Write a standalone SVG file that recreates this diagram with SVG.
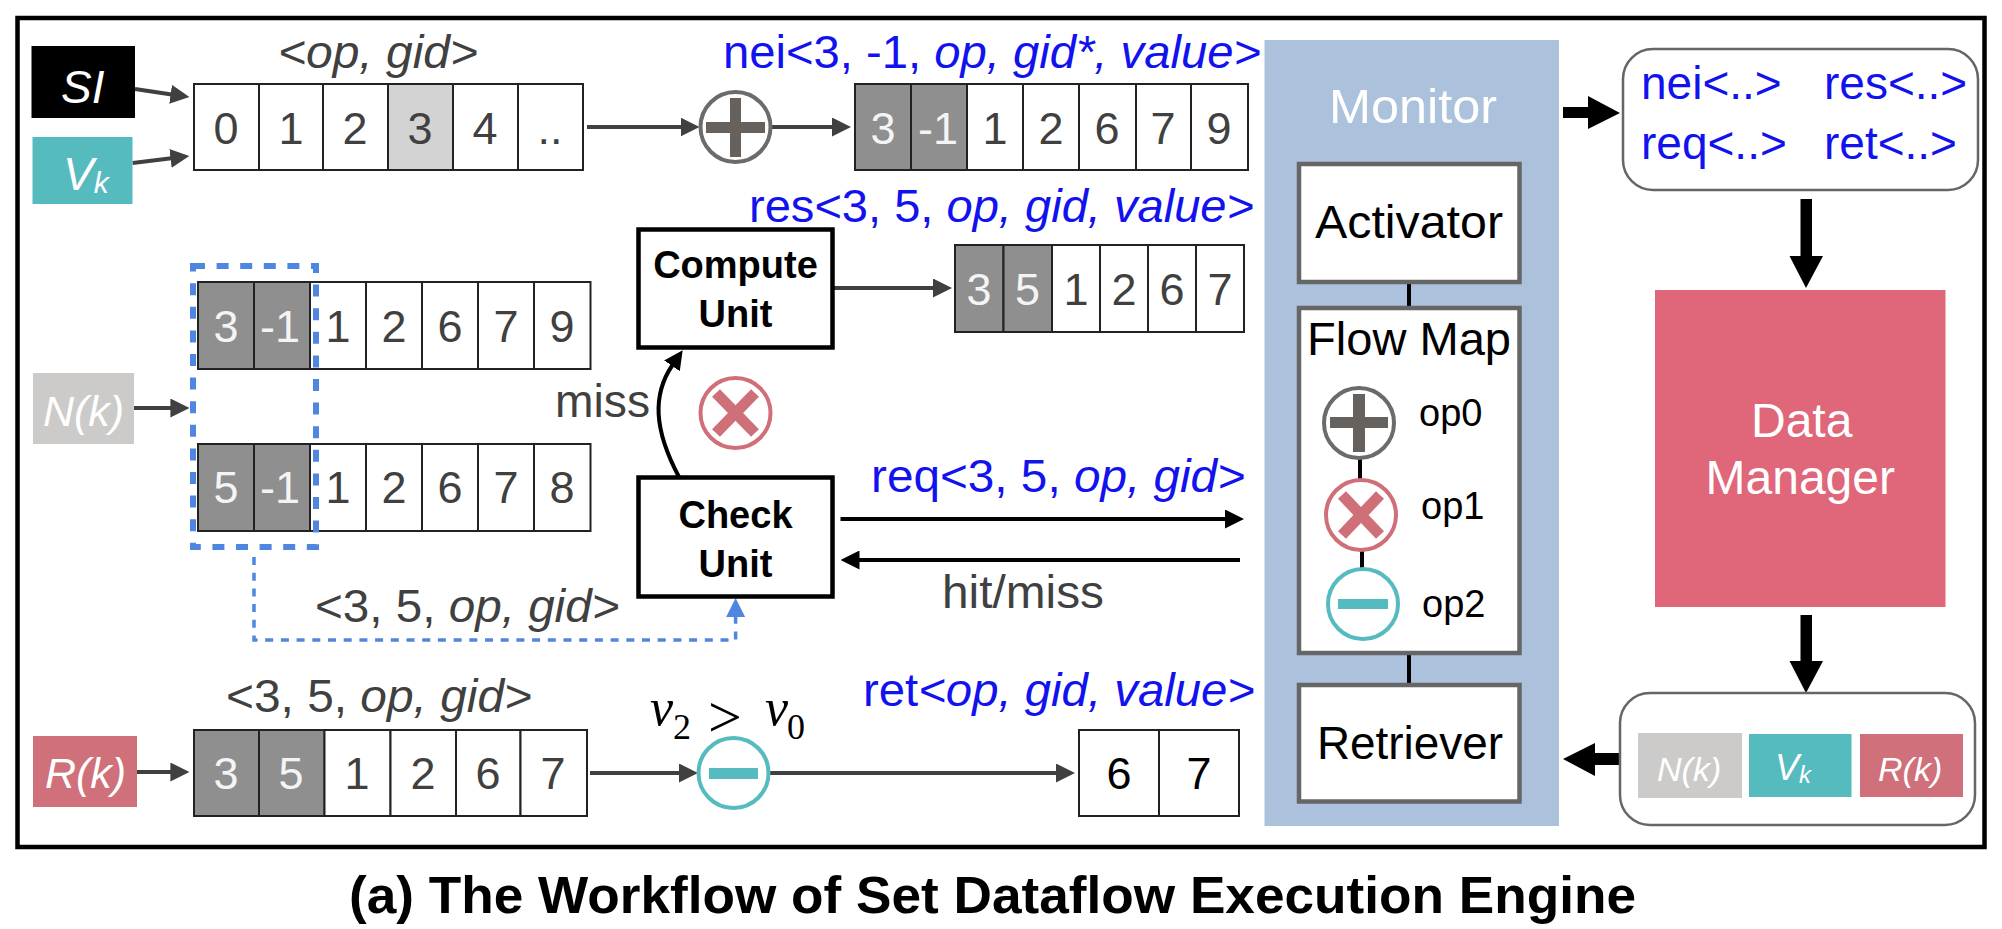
<svg xmlns="http://www.w3.org/2000/svg" width="2002" height="929" viewBox="0 0 2002 929">
<style>
text{font-family:"Liberation Sans",Arial,sans-serif}
.d{font-size:45px;text-anchor:middle;fill:#404040}
.w{font-size:45px;text-anchor:middle;fill:#f4f4f4}
.k{font-size:45px;text-anchor:middle;fill:#000}
.l{font-size:46px;fill:#404040}
.b{font-size:46px;fill:#1212ee}
.i{font-style:italic}
.t{font-size:46px;fill:#000}
.u{font-size:38px;font-weight:bold;fill:#000;text-anchor:middle}
.op{font-size:38px;fill:#000}
.wt{fill:#fff}
.cell{fill:#fff;stroke:#222;stroke-width:2}
.g{fill:#8f8f8f;stroke:#222;stroke-width:2}
.lg{fill:#d3d3d3;stroke:#222;stroke-width:2}
.a{stroke:#404040;stroke-width:4;fill:none;marker-end:url(#ad)}
.ab{stroke:#000;stroke-width:4;fill:none;marker-end:url(#ab)}
.mon{fill:#fff;stroke:#666;stroke-width:4.5}
.unit{fill:#fff;stroke:#000;stroke-width:4.5}
.rb{fill:#fff;stroke:#666;stroke-width:2.5}
.cp{fill:#fff;stroke:#6b6b6b;stroke-width:4}
.cx{fill:#fff;stroke:#cf6f78;stroke-width:4}
.cm{fill:#fff;stroke:#56bbbf;stroke-width:4}
.link{stroke:#000;stroke-width:4}
</style>
<defs>
<marker id="ad" markerUnits="userSpaceOnUse" markerWidth="19" markerHeight="19" viewBox="0 0 19 19" refX="1" refY="9.5" orient="auto"><path d="M0,0L19,9.5L0,19Z" fill="#404040"/></marker>
<marker id="ab" markerUnits="userSpaceOnUse" markerWidth="19" markerHeight="19" viewBox="0 0 19 19" refX="1" refY="9.5" orient="auto"><path d="M0,0L19,9.5L0,19Z" fill="#000"/></marker>
<marker id="abl" markerUnits="userSpaceOnUse" markerWidth="19" markerHeight="19" viewBox="0 0 19 19" refX="1" refY="9.5" orient="auto"><path d="M0,0L19,9.5L0,19Z" fill="#4f86e0"/></marker>
</defs>
<rect width="2002" height="929" fill="#fff"/>
<rect id="frame" x="17.5" y="18" width="1967" height="829" fill="none" stroke="#000" stroke-width="4.5"/>

<g id="monitor">
<rect x="1264.5" y="40" width="294.5" height="786" fill="#abc1dc"/>
<text x="1329" y="123" font-size="48" textLength="168" lengthAdjust="spacingAndGlyphs" class="wt">Monitor</text>
</g>

<g id="connectors">
<path class="a" d="M135,89L171.6,94.4"/>
<path class="a" d="M132.6,163L171.5,158.2"/>
<path class="a" d="M134,408H171.4"/>
<path class="a" d="M137,772H171.4"/>
<path class="a" d="M587,127H681.5"/>
<path class="a" d="M771,127H833"/>
<path class="a" d="M833,288H934"/>
<path class="a" d="M590,773H680"/>
<path class="a" d="M768,773H1057"/>
<path class="ab" stroke-width="3.5" d="M679,477C654,430 652,395 672.5,365"/>
<path class="ab" d="M840.5,519H1226"/>
<path class="ab" d="M1240,560H858.5"/>
<path d="M254,557V640H735.6V616" fill="none" stroke="#4f86e0" stroke-width="3.5" stroke-dasharray="8 7.7" marker-end="url(#abl)"/>
<path class="link" d="M1409,283V309M1360,458V480M1362,549V569M1409,654V685"/>
<path d="M1563,107H1588V96L1620,113L1588,129V118H1563Z" fill="#000"/>
<path d="M1800.5,199H1812V256H1823L1806,288L1789.5,256H1800.5Z" fill="#000"/>
<path d="M1800.5,615H1812V661H1823L1806,693L1789.5,661H1800.5Z" fill="#000"/>
<path d="M1620,753H1595V743L1563,759L1595,776V765H1620Z" fill="#000"/>
</g>

<g id="si"><rect x="31.5" y="46" width="103.5" height="72" fill="#000"/><text x="61" y="103" font-size="46" class="i wt">SI</text></g>
<g id="vk"><rect x="32.5" y="137" width="100" height="67" fill="#56bbbf"/><text x="63" y="190" font-size="46" class="i wt">V<tspan font-size="30" dy="3">k</tspan></text></g>
<g id="nk"><rect x="33" y="373" width="101" height="71" fill="#cccbc9"/><text x="43" y="426" font-size="43" class="i wt">N(k)</text></g>
<g id="rk"><rect x="33" y="736" width="104" height="71" fill="#d0707a"/><text x="45" y="788" font-size="43" class="i wt">R(k)</text></g>

<g id="array-input">
<text x="278" y="68" class="l i" textLength="200" lengthAdjust="spacingAndGlyphs">&lt;op, gid&gt;</text>
<rect class="cell" x="194" y="84" width="65" height="86"/><rect class="cell" x="259" y="84" width="64" height="86"/><rect class="cell" x="323" y="84" width="65" height="86"/><rect class="lg" x="388" y="84" width="65" height="86"/><rect class="cell" x="453" y="84" width="65" height="86"/><rect class="cell" x="518" y="84" width="65" height="86"/>
<text class="d" x="226" y="144">0</text><text class="d" x="291" y="144">1</text><text class="d" x="355" y="144">2</text><text class="d" x="420" y="144">3</text><text class="d" x="485" y="144">4</text><text class="d" x="550" y="144">..</text>
</g>

<g id="op-plus"><circle class="cp" cx="735.5" cy="127" r="35"/><path d="M706,122H730V98H741V122H765V133H741V157H730V133H706Z" fill="#66615c"/></g>

<g id="array-nei">
<text x="723" y="68" class="b" textLength="538" lengthAdjust="spacingAndGlyphs">nei&lt;3, -1, <tspan class="i">op, gid*, value&gt;</tspan></text>
<rect class="g" x="855" y="84" width="56" height="86"/><rect class="g" x="911" y="84" width="56" height="86"/><rect class="cell" x="967" y="84" width="56" height="86"/><rect class="cell" x="1023" y="84" width="56" height="86"/><rect class="cell" x="1079" y="84" width="57" height="86"/><rect class="cell" x="1136" y="84" width="55" height="86"/><rect class="cell" x="1191" y="84" width="57" height="86"/>
<text class="w" x="883" y="144">3</text><text class="w" x="938" y="144">-1</text><text class="d" x="995" y="144">1</text><text class="d" x="1051" y="144">2</text><text class="d" x="1107" y="144">6</text><text class="d" x="1163" y="144">7</text><text class="d" x="1219" y="144">9</text>
</g>

<g id="compute-unit"><rect class="unit" x="638.5" y="229.5" width="194" height="118"/><text class="u" x="735.5" y="278">Compute</text><text class="u" x="735.5" y="327">Unit</text></g>

<g id="array-res">
<text x="749" y="222" class="b" textLength="505" lengthAdjust="spacingAndGlyphs">res&lt;3, 5, <tspan class="i">op, gid, value&gt;</tspan></text>
<rect class="g" x="955" y="245" width="48.5" height="87"/><rect class="g" x="1003.5" y="245" width="48.5" height="87"/><rect class="cell" x="1052" y="245" width="48" height="87"/><rect class="cell" x="1100" y="245" width="48" height="87"/><rect class="cell" x="1148" y="245" width="48" height="87"/><rect class="cell" x="1196" y="245" width="48" height="87"/>
<text class="w" x="979" y="305">3</text><text class="w" x="1027.5" y="305">5</text><text class="d" x="1076" y="305">1</text><text class="d" x="1124" y="305">2</text><text class="d" x="1172" y="305">6</text><text class="d" x="1220" y="305">7</text>
</g>

<g id="array-n1">
<rect class="g" x="198" y="282" width="56" height="87"/><rect class="g" x="254" y="282" width="56" height="87"/><rect class="cell" x="310" y="282" width="56" height="87"/><rect class="cell" x="366" y="282" width="56" height="87"/><rect class="cell" x="422" y="282" width="56" height="87"/><rect class="cell" x="478" y="282" width="56" height="87"/><rect class="cell" x="534" y="282" width="56.500" height="87"/>
<text class="w" x="226" y="342">3</text><text class="w" x="280" y="342">-1</text><text class="d" x="338" y="342">1</text><text class="d" x="394" y="342">2</text><text class="d" x="450" y="342">6</text><text class="d" x="506" y="342">7</text><text class="d" x="562" y="342">9</text>
</g>
<g id="array-n2">
<rect class="g" x="198" y="444" width="56" height="87"/><rect class="g" x="254" y="444" width="56" height="87"/><rect class="cell" x="310" y="444" width="56" height="87"/><rect class="cell" x="366" y="444" width="56" height="87"/><rect class="cell" x="422" y="444" width="56" height="87"/><rect class="cell" x="478" y="444" width="56" height="87"/><rect class="cell" x="534" y="444" width="56.500" height="87"/>
<text class="w" x="226" y="503">5</text><text class="w" x="280" y="503">-1</text><text class="d" x="338" y="503">1</text><text class="d" x="394" y="503">2</text><text class="d" x="450" y="503">6</text><text class="d" x="506" y="503">7</text><text class="d" x="562" y="503">8</text>
</g>
<rect id="selection" x="193" y="266" width="123" height="281" fill="none" stroke="#4f86e0" stroke-width="6" stroke-dasharray="12 11.6"/>

<text id="label-miss" x="555" y="417" class="l" textLength="95" lengthAdjust="spacingAndGlyphs">miss</text>
<g id="op-times"><circle class="cx" cx="735.500" cy="413" r="35"/><path d="M716,393L755,433M755,393L716,433" stroke="#cf6f78" stroke-width="11" fill="none"/></g>

<g id="check-unit"><rect class="unit" x="638.5" y="477.5" width="194" height="119"/><text class="u" x="735.5" y="528">Check</text><text class="u" x="735.5" y="577">Unit</text></g>

<text id="label-req" x="871" y="492" class="b" textLength="374" lengthAdjust="spacingAndGlyphs">req&lt;3, 5, <tspan class="i">op, gid&gt;</tspan></text>
<text id="label-hit" x="942" y="608" class="l" textLength="162" lengthAdjust="spacingAndGlyphs">hit/miss</text>
<text id="label-check" x="315" y="622" class="l" textLength="304.500" lengthAdjust="spacingAndGlyphs">&lt;3, 5, <tspan class="i">op, gid&gt;</tspan></text>

<g id="array-r">
<text x="226" y="712" class="l" textLength="306" lengthAdjust="spacingAndGlyphs">&lt;3, 5, <tspan class="i">op, gid&gt;</tspan></text>
<rect class="g" x="194" y="730" width="65" height="86"/><rect class="g" x="259" y="730" width="65.500" height="86"/><rect class="cell" x="324.500" y="730" width="66" height="86"/><rect class="cell" x="390.500" y="730" width="65.500" height="86"/><rect class="cell" x="456" y="730" width="64.500" height="86"/><rect class="cell" x="520.500" y="730" width="66.500" height="86"/>
<text class="w" x="226" y="789">3</text><text class="w" x="291" y="789">5</text><text class="d" x="357" y="789">1</text><text class="d" x="423" y="789">2</text><text class="d" x="488" y="789">6</text><text class="d" x="553" y="789">7</text>
</g>

<g id="condition" fill="#000" style="font-family:'Liberation Serif',serif">
<text x="650" y="725" font-size="52" font-style="italic" style="font-family:'Liberation Serif',serif">v</text>
<text x="673" y="739" font-size="36" style="font-family:'Liberation Serif',serif">2</text>
<text x="708" y="737" font-size="60" style="font-family:'Liberation Serif',serif">&gt;</text>
<text x="765" y="725" font-size="52" font-style="italic" style="font-family:'Liberation Serif',serif">v</text>
<text x="787" y="739" font-size="36" style="font-family:'Liberation Serif',serif">0</text>
</g>
<g id="op-minus"><circle class="cm" cx="733.500" cy="773" r="35"/><rect x="709" y="768" width="49" height="11" fill="#56bbbf"/></g>

<g id="array-out">
<text x="863" y="706" class="b" textLength="392" lengthAdjust="spacingAndGlyphs">ret<tspan class="i">&lt;op, gid, value&gt;</tspan></text>
<rect class="cell" x="1079" y="730" width="80" height="86"/><rect class="cell" x="1159" y="730" width="80" height="86"/>
<text class="k" x="1119" y="789">6</text><text class="k" x="1199" y="789">7</text>
</g>

<g id="activator"><rect class="mon" x="1299" y="164" width="220.500" height="118"/><text x="1315" y="238" class="t" textLength="188" lengthAdjust="spacingAndGlyphs">Activator</text></g>
<g id="flow-map">
<rect class="mon" x="1299" y="308" width="220.500" height="345"/>
<text x="1307" y="355" class="t" textLength="204" lengthAdjust="spacingAndGlyphs">Flow Map</text>
<path class="link" d="M1360,458V480M1362,549V569"/>
<circle class="cp" cx="1359" cy="423" r="35"/><path d="M1330,417H1353V394H1365V417H1388V428H1365V452H1353V428H1330Z" fill="#66615c"/>
<text x="1419" y="426" class="op">op0</text>
<circle class="cx" cx="1361" cy="515" r="35"/><path d="M1342,495L1380,535M1380,495L1342,535" stroke="#cf6f78" stroke-width="11" fill="none"/>
<text x="1421" y="519" class="op">op1</text>
<circle class="cm" cx="1363" cy="604" r="35"/><rect x="1338" y="599" width="50" height="10" fill="#56bbbf"/>
<text x="1422" y="617" class="op">op2</text>
</g>
<g id="retriever"><rect class="mon" x="1299" y="685" width="220.500" height="116.500"/><text x="1317" y="759" class="t" textLength="186" lengthAdjust="spacingAndGlyphs">Retriever</text></g>

<g id="messages">
<rect class="rb" x="1623" y="49" width="355" height="141" rx="30"/>
<text x="1641" y="99" class="b">nei&lt;..&gt;</text><text x="1824" y="99" class="b">res&lt;..&gt;</text>
<text x="1641" y="159" class="b">req&lt;..&gt;</text><text x="1824" y="159" class="b">ret&lt;..&gt;</text>
</g>
<g id="data-manager"><rect x="1655" y="290" width="290.500" height="317" fill="#e0667a"/><text x="1751" y="437" font-size="48" class="wt">Data</text><text x="1705.500" y="494" font-size="48" class="wt">Manager</text></g>
<g id="storage">
<rect class="rb" x="1620" y="693" width="355" height="132" rx="30"/>
<rect x="1638" y="733" width="104" height="65" fill="#cccbc9"/><text x="1657" y="781" font-size="34" class="i wt">N(k)</text>
<rect x="1749" y="734" width="102.500" height="63" fill="#56bbbf"/><text x="1775" y="780" font-size="36" class="i wt">V<tspan font-size="24" dy="3">k</tspan></text>
<rect x="1860" y="734" width="103" height="63" fill="#d0707a"/><text x="1878" y="781" font-size="34" class="i wt">R(k)</text>
</g>
<text id="caption" x="349" y="913" font-size="52" font-weight="bold" fill="#000" textLength="1287" lengthAdjust="spacingAndGlyphs">(a) The Workflow of Set Dataflow Execution Engine</text>
</svg>
